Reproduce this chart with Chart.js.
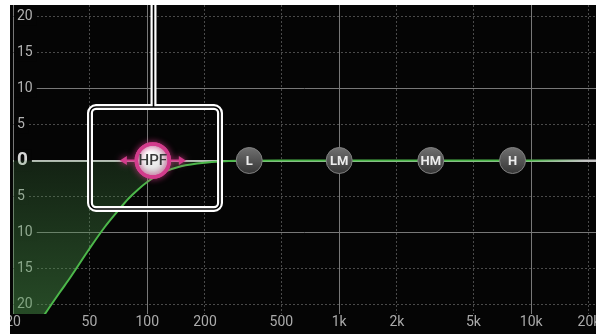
<!DOCTYPE html>
<html>
<head>
<meta charset="utf-8">
<script src="https://cdn.jsdelivr.net/npm/chart.js@4.4.1/dist/chart.umd.min.js"></script>
<style>
  html, body { margin: 0; padding: 0; background: #fff; overflow: hidden; }
  #wrap { position: absolute; left: 0; top: 0; width: 620px; height: 334px; }
</style>
</head>
<body>
<div id="wrap"><canvas id="eq"></canvas></div>
<script>
// ---- Data ----
const curveFreqs = [20, 25, 30, 35, 40, 50, 60, 70, 80, 90, 100, 120, 150, 200, 300, 500, 1000, 2000, 5000, 10000, 22000];
const curveGains = [-28, -24.1, -21, -18.4, -16.2, -12.3, -9.3, -7.1, -5.3, -4.0, -3.0, -1.7, -0.8, -0.3, -0.05, 0, 0, 0, 0, 0, 0];

const bandNames = ['L', 'LM', 'HM', 'H'];
const bandFreqs = [340, 1000, 3000, 8000];
const bandGains = [0, 0, 0, 0];

const hpfName = 'HPF';
const hpfFreq = [107];
const hpfGain = [0];

const xTickValues = [20, 50, 100, 200, 500, 1000, 2000, 5000, 10000, 20000];
const xTickLabels = ['20', '50', '100', '200', '500', '1k', '2k', '5k', '10k', '20k'];
const xSolid = [20, 100, 1000, 10000];
const yTickValues = [-20, -15, -10, -5, 0, 5, 10, 15, 20];
const ySolid = [-10, 10];

// ---- Colours ----
const GRID_SOLID = '#787878';
const GRID_DASH  = '#4a4a4a';
const GREEN      = '#4cb84a';
const PINK       = '#d23c8c';

const pts = (xs, ys) => xs.map((x, i) => ({ x, y: ys[i] }));
const ok = (...v) => v.every(Number.isFinite);

// ---- Scriptable gradients ----
function lineGradient(c) {
  const a = c.chart.chartArea;
  if (!a || !ok(a.left, a.right) || a.right <= a.left) return GREEN;
  const g = c.chart.ctx.createLinearGradient(a.left, 0, a.right, 0);
  const p = v => Math.min(1, Math.max(0, (v - a.left) / (a.right - a.left)));
  g.addColorStop(0, GREEN);
  g.addColorStop(p(530), GREEN);
  g.addColorStop(p(585), '#c4c4c4');
  g.addColorStop(1, '#c4c4c4');
  return g;
}

function fillGradient(c) {
  const ch = c.chart, a = ch.chartArea;
  if (!a || !ch.scales.y) return 'rgba(75,150,75,0.3)';
  const top = ch.scales.y.getPixelForValue(0);
  if (!ok(top, a.bottom) || a.bottom <= top) return 'rgba(75,150,75,0.3)';
  const g = ch.ctx.createLinearGradient(0, top, 0, a.bottom);
  g.addColorStop(0, 'rgba(75,150,75,0.2)');
  g.addColorStop(1, 'rgba(75,150,75,0.48)');
  return g;
}

function bandFill(c) {
  const ch = c.chart;
  if (!c.raw || !ch.scales.y) return '#555';
  const y = ch.scales.y.getPixelForValue(c.raw.y);
  if (!ok(y)) return '#555';
  const g = ch.ctx.createLinearGradient(0, y - 13, 0, y + 13);
  g.addColorStop(0, '#707070');
  g.addColorStop(1, '#363636');
  return g;
}

function hpfFill(c) {
  const ch = c.chart;
  if (!c.raw || !ch.scales.x || !ch.scales.y) return '#ddd';
  const x = ch.scales.x.getPixelForValue(c.raw.x);
  const y = ch.scales.y.getPixelForValue(c.raw.y);
  if (!ok(x, y)) return '#ddd';
  const g = ch.ctx.createRadialGradient(x - 4, y - 7, 2, x, y, 16);
  g.addColorStop(0, '#ffffff');
  g.addColorStop(0.6, '#e6e6e6');
  g.addColorStop(1, '#b8b8b8');
  return g;
}

// ---- Decorations: background, marker captions, HPF arrows, callout ----
const eqDecor = {
  id: 'eqDecor',
  beforeDraw(chart) {
    const ctx = chart.ctx;
    ctx.save();
    ctx.fillStyle = '#050505';
    ctx.fillRect(0, 0, chart.width, chart.height);
    ctx.restore();
  },
  afterDatasetsDraw(chart) {
    const ctx = chart.ctx;
    ctx.save();
    ctx.textAlign = 'center';
    ctx.textBaseline = 'middle';

    // band captions
    const bands = chart.getDatasetMeta(1).data;
    ctx.fillStyle = '#ececec';
    ctx.font = 'bold 13px Roboto';
    bands.forEach((p, i) => ctx.fillText(bandNames[i], p.x, p.y + 1));

    // HPF ring glow, arrows, caption
    const h = chart.getDatasetMeta(2).data[0];
    ctx.shadowColor = 'rgba(235,60,150,0.9)';
    ctx.shadowBlur = 6;
    ctx.strokeStyle = PINK;
    ctx.lineWidth = 3.5;
    ctx.beginPath();
    ctx.arc(h.x, h.y, 16.5, 0, Math.PI * 2);
    ctx.stroke();
    ctx.fillStyle = PINK;
    [-1, 1].forEach(d => {
      ctx.beginPath();
      ctx.moveTo(h.x + d * 18, h.y - 1);
      ctx.lineTo(h.x + d * 26, h.y - 1);
      ctx.lineTo(h.x + d * 26, h.y - 4.5);
      ctx.lineTo(h.x + d * 33, h.y);
      ctx.lineTo(h.x + d * 26, h.y + 4.5);
      ctx.lineTo(h.x + d * 26, h.y + 1);
      ctx.lineTo(h.x + d * 18, h.y + 1);
      ctx.closePath();
      ctx.fill();
    });
    ctx.shadowBlur = 0;
    ctx.fillStyle = '#3a3a3a';
    ctx.font = '500 15px Roboto';
    ctx.fillText(hpfName, h.x, h.y + 1);
    ctx.restore();
  },
  afterDraw(chart) {
    const ctx = chart.ctx;
    const a = chart.chartArea;
    ctx.save();
    // white frame strips (top and left)
    ctx.fillStyle = '#fff';
    ctx.fillRect(0, 0, chart.width, 5);
    ctx.fillRect(0, 0, 10, chart.height);

    // callout around the HPF handle
    const h = chart.getDatasetMeta(2).data[0];
    const bx = Math.round(h.x) - 63, by = Math.round(h.y) - 54, bw = 130, bh = 102;
    const lx = Math.round(h.x) + 0.5;
    const path = () => {
      ctx.beginPath();
      ctx.roundRect(bx, by, bw, bh, 6);
    };
    ctx.strokeStyle = '#fff';
    ctx.lineWidth = 6;
    path(); ctx.stroke();
    ctx.beginPath(); ctx.moveTo(lx, by); ctx.lineTo(lx, 0); ctx.stroke();
    ctx.strokeStyle = '#000';
    ctx.lineWidth = 1.6;
    path(); ctx.stroke();
    ctx.beginPath(); ctx.moveTo(lx, by); ctx.lineTo(lx, a.top); ctx.stroke();
    ctx.restore();
  }
};

new Chart(document.getElementById('eq'), {
  type: 'line',
  data: {
    datasets: [
      {
        label: 'HPF response',
        data: pts(curveFreqs, curveGains),
        borderColor: lineGradient,
        borderWidth: 2,
        pointRadius: 0,
        fill: 'origin',
        backgroundColor: fillGradient,
        cubicInterpolationMode: 'monotone',
        order: 3
      },
      {
        label: 'Bands',
        data: pts(bandFreqs, bandGains),
        showLine: false,
        pointRadius: 13,
        pointHoverRadius: 13,
        pointBackgroundColor: bandFill,
        pointBorderColor: '#808080',
        pointBorderWidth: 1,
        clip: false,
        order: 2
      },
      {
        label: 'HPF',
        data: pts(hpfFreq, hpfGain),
        showLine: false,
        pointRadius: 16.5,
        pointHoverRadius: 16.5,
        pointBackgroundColor: hpfFill,
        pointBorderColor: PINK,
        pointBorderWidth: 3.5,
        clip: false,
        order: 1
      }
    ]
  },
  options: {
    responsive: true,
    maintainAspectRatio: false,
    animation: false,
    events: [],
    layout: { autoPadding: false, padding: { left: 13, top: 5, right: 24, bottom: 0 } },
    plugins: { legend: { display: false }, tooltip: { enabled: false } },
    scales: {
      x: {
        type: 'logarithmic',
        min: 20,
        max: 21760,
        afterBuildTicks: s => { s.ticks = xTickValues.map(v => ({ value: v })); },
        afterFit: s => { s.height = 20; s.paddingLeft = 0; s.paddingRight = 0; },
        grid: {
          color: c => xSolid.includes(c.tick && c.tick.value) ? GRID_SOLID : GRID_DASH,
          lineWidth: 1,
          drawTicks: false
        },
        border: { display: false, dash: c => xSolid.includes(c.tick && c.tick.value) ? [] : [2, 2] },
        ticks: {
          autoSkip: false,
          maxRotation: 0,
          padding: 0,
          color: '#ababab',
          font: { family: 'Roboto', size: 14 },
          callback: v => xTickLabels[xTickValues.indexOf(v)]
        }
      },
      y: {
        min: -21.39,
        max: 21.67,
        afterBuildTicks: s => { s.ticks = yTickValues.map(v => ({ value: v })); },
        afterFit: s => { s.width = 0; s.paddingTop = 0; s.paddingBottom = 0; },
        grid: {
          color: c => {
            const v = c.tick && c.tick.value;
            return v === 0 ? '#c2c2c2' : ySolid.includes(v) ? GRID_SOLID : GRID_DASH;
          },
          lineWidth: c => (c.tick && c.tick.value === 0) ? 2 : 1,
          drawTicks: false
        },
        border: {
          display: false,
          dash: c => {
            const v = c.tick && c.tick.value;
            return (v === 0 || ySolid.includes(v)) ? [] : [2, 2];
          }
        },
        ticks: {
          mirror: true,
          padding: 4,
          showLabelBackdrop: true,
          backdropColor: '#050505',
          backdropPadding: { top: 0, bottom: 0, left: 3, right: 4 },
          color: c => (c.tick && c.tick.value === 0) ? '#d4d4d4' : '#b2b2b2',
          font: c => (c.tick && c.tick.value === 0)
            ? { family: 'Roboto', size: 19, weight: 'bold' }
            : { family: 'Roboto', size: 14 },
          callback: v => String(Math.abs(v))
        }
      }
    }
  },
  plugins: [eqDecor]
});
</script>
</body>
</html>
